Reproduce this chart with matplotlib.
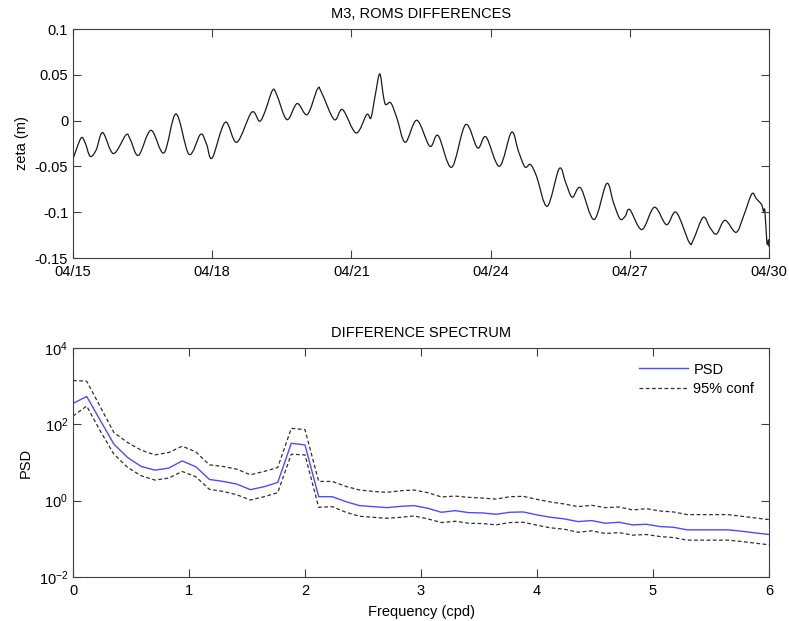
import numpy as np
import matplotlib
matplotlib.use('Agg')
import matplotlib.pyplot as plt
from matplotlib.path import Path
from matplotlib.patches import PathPatch

plt.rcParams['font.family'] = ['Liberation Sans', 'DejaVu Sans']
plt.rcParams['mathtext.default'] = 'regular'
plt.rcParams['font.size'] = 10

# top panel: sea level difference, days since 04/15
days = [0.00, 0.17, 0.26, 0.37, 0.50, 0.64, 0.87, 1.14, 1.23, 1.41, 1.68, 1.96,
        2.22, 2.50, 2.75, 2.88, 3.00, 3.28, 3.53, 3.85, 4.02, 4.14, 4.30, 4.39,
        4.61, 4.83, 5.05, 5.27, 5.36, 5.63, 5.81, 6.10, 6.33, 6.42, 6.51, 6.61,
        6.69, 6.74, 6.85, 6.98, 7.16, 7.41, 7.69, 7.87, 8.16, 8.46, 8.72, 8.90,
        9.19, 9.45, 9.60, 9.74, 9.86, 9.99, 10.22, 10.48, 10.62, 10.76, 10.94,
        11.23, 11.50, 11.65, 11.79, 11.90, 12.00, 12.26, 12.53, 12.79, 13.00,
        13.28, 13.37, 13.58, 13.73, 13.87, 14.05, 14.29, 14.45, 14.63, 14.73,
        14.84, 14.88, 14.91, 14.95, 14.97, 14.99, 15.00]
zeta = [-0.042, -0.0193, -0.024, -0.039, -0.032, -0.0131, -0.036, -0.0157,
        -0.020, -0.038, -0.0106, -0.0353, 0.0073, -0.0368, -0.0149, -0.026,
        -0.0408, -0.0018, -0.0237, 0.0091, -0.0007, 0.0102, 0.0331, 0.0284,
        0.0011, 0.0186, 0.0066, 0.0346, 0.0302, 0.0011, 0.012, -0.0135,
        0.0066, 0.0029, 0.0266, 0.051, 0.0266, 0.0175, 0.0193, 0.0029,
        -0.0237, 0.0004, -0.028, -0.0164, -0.051, -0.0044, -0.0298, -0.0178,
        -0.0499, -0.0127, -0.0335, -0.0506, -0.048, -0.0608, -0.0935, -0.0524,
        -0.068, -0.0837, -0.0735, -0.108, -0.0688, -0.090, -0.1074, -0.1045,
        -0.0972, -0.119, -0.0946, -0.1136, -0.1001, -0.1329, -0.130, -0.1056,
        -0.117, -0.1238, -0.1088, -0.122, -0.1045, -0.080, -0.0855, -0.0917,
        -0.099, -0.098, -0.130, -0.1354, -0.130, -0.138]
date_ticks = [0, 3, 6, 9, 12, 15]
date_labels = ['04/15', '04/18', '04/21', '04/24', '04/27', '04/30']

# bottom panel: spectrum
freq = [0.000, 0.118, 0.235, 0.353, 0.471, 0.588, 0.706, 0.824, 0.941, 1.059,
        1.176, 1.294, 1.412, 1.529, 1.647, 1.765, 1.882, 2.000, 2.118, 2.235,
        2.353, 2.471, 2.588, 2.706, 2.824, 2.941, 3.059, 3.176, 3.294, 3.412,
        3.529, 3.647, 3.765, 3.882, 4.000, 4.118, 4.235, 4.353, 4.471, 4.588,
        4.706, 4.824, 4.941, 5.059, 5.176, 5.294, 5.412, 5.529, 5.647, 5.765,
        5.882, 6.000]
psd = [353, 537, 127, 30.1, 13.5, 7.87, 6.31, 7.11, 11.0, 7.71, 3.60, 3.19,
       2.72, 1.94, 2.32, 3.01, 31.9, 28.9, 1.27, 1.27, 0.94, 0.741, 0.697,
       0.657, 0.711, 0.741, 0.631, 0.496, 0.548, 0.486, 0.477, 0.440, 0.496,
       0.506, 0.423, 0.367, 0.333, 0.283, 0.301, 0.256, 0.272, 0.232, 0.241,
       0.210, 0.201, 0.172, 0.172, 0.172, 0.172, 0.158, 0.143, 0.130]
conf_hi = [1406, 1350, 289, 60.6, 33.3, 21.0, 15.8, 18.2, 26.7, 19.0, 8.69,
           7.87, 6.70, 4.77, 5.82, 7.41, 78.7, 72.6, 3.19, 3.19, 2.36, 1.90,
           1.75, 1.65, 1.82, 1.90, 1.62, 1.25, 1.32, 1.22, 1.17, 1.10, 1.27,
           1.30, 1.08, 0.923, 0.819, 0.697, 0.756, 0.657, 0.684, 0.571, 0.618,
           0.537, 0.506, 0.431, 0.431, 0.431, 0.431, 0.390, 0.353, 0.319]
conf_lo = [165, 301, 67.0, 16.5, 7.41, 4.49, 3.46, 3.90, 5.82, 4.23, 1.98,
           1.75, 1.43, 1.04, 1.27, 1.62, 16.5, 15.8, 0.670, 0.697, 0.496,
           0.390, 0.367, 0.346, 0.367, 0.398, 0.333, 0.267, 0.289, 0.256,
           0.251, 0.232, 0.267, 0.272, 0.227, 0.194, 0.179, 0.149, 0.162,
           0.138, 0.146, 0.125, 0.130, 0.115, 0.108, 0.0923, 0.0923, 0.0923,
           0.0923, 0.0851, 0.0771, 0.0697]


def smooth_path(x, y):
    # curve through the read points (Catmull-Rom drawn as cubic Bezier)
    pts = np.column_stack([x, y])
    verts = [pts[0]]
    codes = [Path.MOVETO]
    n = len(pts)
    for i in range(n - 1):
        p0 = pts[max(i - 1, 0)]
        p1 = pts[i]
        p2 = pts[i + 1]
        p3 = pts[min(i + 2, n - 1)]
        verts += [p1 + (p2 - p0) / 6.0, p2 - (p3 - p1) / 6.0, p2]
        codes += [Path.CURVE4] * 3
    return Path(verts, codes)


def style_axes(ax):
    for s in ax.spines.values():
        s.set_color('#404040')
        s.set_linewidth(0.8)
    ax.tick_params(which='both', direction='in', top=True, right=True,
                   length=6, width=0.8, color='#404040', labelsize=10.5)
    ax.tick_params(which='minor', length=0)
    ax.tick_params(axis='x', pad=5)


fig = plt.figure(figsize=(7.89, 6.21), dpi=100)
ax1 = fig.add_axes([73 / 789, 1 - 258 / 621, 696 / 789, 229 / 621])
ax2 = fig.add_axes([73 / 789, 1 - 577 / 621, 696 / 789, 229 / 621])

ax1.add_patch(PathPatch(smooth_path(days, zeta), fill=False,
                        edgecolor='#1a1a1a', lw=0.9))
ax1.set_xlim(0, 15)
ax1.set_ylim(-0.15, 0.1)
ax1.set_xticks(date_ticks)
ax1.set_xticklabels(date_labels)
ax1.set_yticks([-0.15, -0.1, -0.05, 0, 0.05, 0.1])
ax1.set_yticklabels(['-0.15', '-0.1', '-0.05', '0', '0.05', '0.1'])
ax1.set_ylabel('zeta (m)', fontsize=10.5, labelpad=4)
ax1.set_title('M3, ROMS DIFFERENCES', fontsize=10.5, pad=8)
style_axes(ax1)

ax2.semilogy(freq, psd, color='#4c4cff', lw=1.0, label='PSD')
ax2.semilogy(freq, conf_hi, color='#303030', lw=0.9, ls=(0, (3, 2)), label='95% conf')
ax2.semilogy(freq, conf_lo, color='#303030', lw=0.9, ls=(0, (3, 2)))
ax2.set_xlim(0, 6)
ax2.set_ylim(1e-2, 1e4)
ax2.set_yticks([1e-2, 1e0, 1e2, 1e4])
ax2.set_yticklabels(['$10^{-2}$', '$10^{0}$', '$10^{2}$', '$10^{4}$'])
ax2.set_xticks([0, 1, 2, 3, 4, 5, 6])
ax2.set_xlabel('Frequency (cpd)', fontsize=10.5, labelpad=5)
ax2.set_ylabel('PSD', fontsize=10.5)
ax2.set_title('DIFFERENCE SPECTRUM', fontsize=10.5, pad=8)
ax2.legend(loc='upper right', frameon=False, fontsize=10.5, handlelength=3.3,
           handletextpad=0.4, labelspacing=0.35, borderaxespad=0.6)
style_axes(ax2)

plt.savefig('out.png', dpi=100)
